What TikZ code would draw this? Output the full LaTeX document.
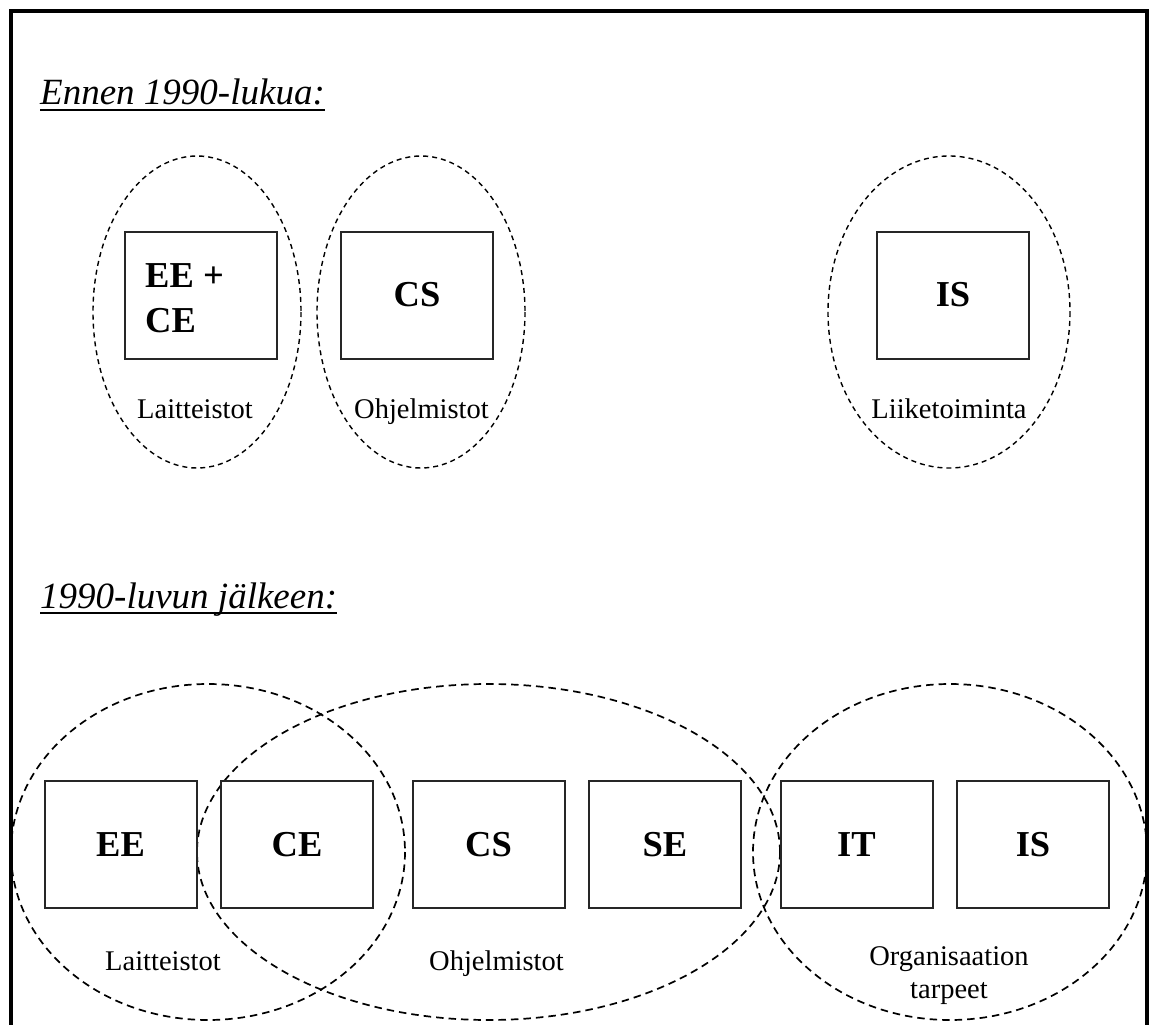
\documentclass[tikz,border=0pt]{standalone}
\usepackage{fontspec}
\setmainfont{Liberation Serif}
\newcommand\bxfont{\fontsize{36.5}{44}\selectfont\bfseries}
\newcommand\ttlfont{\fontsize{37}{44}\selectfont\itshape}
\newcommand\lblfont{\fontsize{28.5}{33}\selectfont}
\begin{document}
\begin{tikzpicture}[x=1pt,y=-1pt,
  box/.style={draw=black!85, line width=2pt, minimum width=152pt, minimum height=127pt, inner sep=0pt, font=\bxfont},
  grpA/.style={draw=black, line width=1.4pt, dash pattern=on 5pt off 4pt},
  grpB/.style={draw=black, line width=1.7pt, dash pattern=on 7.5pt off 5pt},
  lbl/.style={anchor=base, inner sep=0pt, font=\lblfont},
  ttl/.style={anchor=base west, inner sep=0pt, font=\ttlfont},
  uline/.style={line width=2.5pt}]
\useasboundingbox (0,0) rectangle (1152,1025);
\clip (0,0) rectangle (1152,1025);
\fill[white] (0,0) rectangle (1152,1025);
% frame
\draw[line width=4pt] (11,1040) -- (11,11) -- (1147,11) -- (1147,1040);

% titles
\node[ttl] (t1) at (40,105) {Ennen 1990-lukua:};
\draw[uline] ([yshift=-5pt]t1.base west) -- ([yshift=-5pt]t1.base east);
\node[ttl] (t2) at (40,608) {1990-luvun jälkeen:};
\draw[uline] ([yshift=-5pt]t2.base west) -- ([yshift=-5pt]t2.base east);

% top section
\draw[grpA] (197,312) ellipse [x radius=104, y radius=156];
\draw[grpA] (421,312) ellipse [x radius=104, y radius=156];
\draw[grpA] (949,312) ellipse [x radius=121, y radius=156];

\node[box] (eece) at (200.5,295) {};
\node[anchor=base west, inner sep=0pt, font=\bxfont] (eetxt) at (145,287) {EE +};
\node[anchor=base west, inner sep=0pt, font=\bxfont] (cetxt) at (145,332) {CE};
\node[box] (cs1) at (417,295) {CS};
\node[box] (is1) at (953,295) {IS};

\node[lbl] (l1) at (195,418) {Laitteistot};
\node[lbl] (l2) at (421.5,418) {Ohjelmistot};
\node[lbl] (l3) at (949,418) {Liiketoiminta};

% bottom section
\draw[grpB] (208,852) ellipse [x radius=197, y radius=168];
\draw[grpB] (488.5,852) ellipse [x radius=291.5, y radius=168];
\draw[grpB] (950,852) ellipse [x radius=197, y radius=168];

\node[box] (ee) at (120.5,844.5) {EE};
\node[box] (ce) at (297,844.5) {CE};
\node[box] (cs2) at (488.5,844.5) {CS};
\node[box] (se) at (665,844.5) {SE};
\node[box] (it) at (856.5,844.5) {IT};
\node[box] (is2) at (1033,844.5) {IS};

\node[lbl] (m1) at (163,970) {Laitteistot};
\node[lbl] (m2) at (496.5,970) {Ohjelmistot};
\node[lbl] (m3a) at (949,965) {Organisaation};
\node[lbl] (m3b) at (949,998) {tarpeet};
\end{tikzpicture}
\end{document}
